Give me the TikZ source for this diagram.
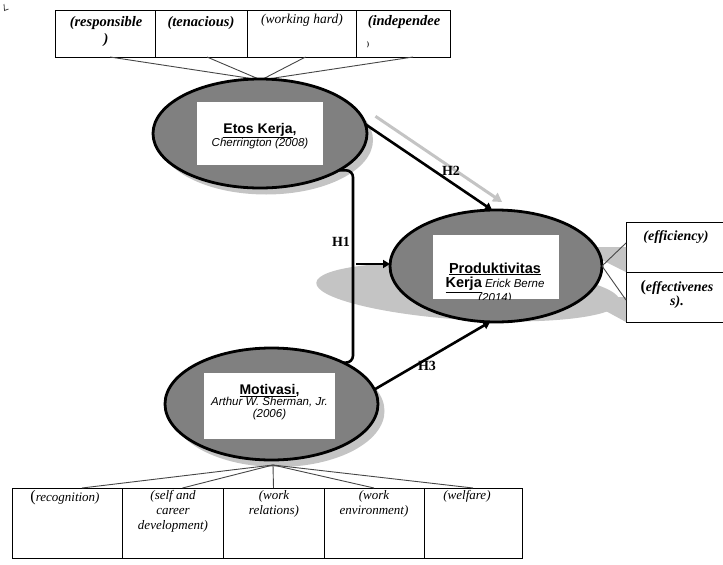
\documentclass[tikz,border=0pt]{standalone}
\usepackage{fontspec}
\setmainfont{Liberation Serif}
\newfontfamily\arial{Liberation Sans}
\usetikzlibrary{shapes.geometric,arrows.meta,calc}
\definecolor{ellgray}{RGB}{128,128,128}
\definecolor{shad}{RGB}{196,196,196}
\definecolor{spokec}{RGB}{70,70,70}
\tikzset{
  constr/.style={ellipse, draw=black, line width=2.8pt, fill=ellgray, inner sep=0pt, outer sep=0pt},
  shadowell/.style={ellipse, fill=shad, draw=none, inner sep=0pt, outer sep=0pt},
  whitebox/.style={fill=white, draw=none, inner sep=0pt},
  cell/.style={draw=black, line width=0.9pt, inner sep=0pt, outer sep=0pt, anchor=north west},
  spoke/.style={draw=spokec, line width=0.9pt},
  hyp/.style={draw=black, line width=2.6pt, -{Triangle[length=7pt,width=8pt]}},
  grayarrow/.style={draw=shad, line width=3pt, -{Triangle[length=9pt,width=10pt]}},
  hlabel/.style={font=\bfseries\fontsize{14}{14}\selectfont, inner sep=0pt},
  topbi/.style={font=\bfseries\itshape\fontsize{14.5}{17}\selectfont, align=center, anchor=north, inner sep=0pt},
  topi/.style={font=\itshape\fontsize{13.5}{17}\selectfont, align=center, anchor=north, inner sep=0pt},
  boti/.style={font=\itshape\fontsize{13}{15}\selectfont, align=center, anchor=north, inner sep=0pt},
  inner/.style={align=center, inner sep=0pt},
}
\newcommand{\bigpar}{{\upshape\fontsize{16}{15}\selectfont(}}
\begin{document}
\begin{tikzpicture}[x=1pt,y=-1pt]
\useasboundingbox (0,0) rectangle (723,565);

% tiny mark top-left
\draw[line width=0.8pt, black!75] (4,4) -- (4.5,10.5) -- (8.5,9);

% ---- top indicator cells ----
\node[cell, minimum width=100, minimum height=47] (t1) at (55,10) {};
\node[cell, minimum width=92, minimum height=47] (t2) at (155,10) {};
\node[cell, minimum width=109, minimum height=47] (t3) at (247,10) {};
\node[cell, minimum width=94, minimum height=47] (t4) at (356,10) {};
\node[topbi] (t1t) at (106,16) {(responsible\\)};
\node[topbi] (t2t) at (201,16) {(tenacious)};
\node[topi] (t3t) at (302,14) {(working hard)};
\node[topbi] (t4t) at (404,15) {(independee};
\node[font=\bfseries\fontsize{7}{7}\selectfont, inner sep=0pt] (t4p) at (368,45) {)};

% ---- bottom indicator cells ----
\node[cell, minimum width=110, minimum height=70] (b1) at (12,488) {};
\node[cell, minimum width=101, minimum height=70] (b2) at (122,488) {};
\node[cell, minimum width=101, minimum height=70] (b3) at (223,488) {};
\node[cell, minimum width=100, minimum height=70] (b4) at (324,488) {};
\node[cell, minimum width=98, minimum height=70] (b5) at (424,488) {};
\node[boti] (b1t) at (65,490) {\bigpar recognition)};
\node[boti] (b2t) at (173,490) {(self and\\career\\development)};
\node[boti] (b3t) at (274,490) {(work\\relations)};
\node[boti] (b4t) at (374,490) {(work\\environment)};
\node[boti] (b5t) at (467,490) {(welfare)};

% ---- right indicator cells ----
\node[cell, minimum width=100, minimum height=50] (r1) at (626,222) {};
\node[cell, minimum width=100, minimum height=50] (r2) at (626,272) {};
\node[font=\bfseries\itshape\fontsize{14}{15}\selectfont, inner sep=0pt] (r1t) at (676,237) {(efficiency)};
\node[font=\bfseries\itshape\fontsize{14}{14}\selectfont, align=center, inner sep=0pt] (r2t) at (677,294) {\bigpar effectivenes\\s).};

% ---- shadows ----
\fill[shad, rotate around={-3.5:(468,292)}] (468,292) ellipse [x radius=152, y radius=28];
\fill[shad] (595,247) -- (626,247) -- (626,272) -- (602,260) -- cycle;
\fill[shad] (580,297) -- (626,297) -- (626,322) -- cycle;
\node[shadowell, minimum width=214, minimum height=109] (etossh) at (266,140) {};
\node[shadowell, minimum width=213, minimum height=112] (motsh) at (278,411) {};

% ---- spokes ----
\coordinate (mb) at (273,465);
\coordinate (et) at (261,80);
\draw[spoke] ([xshift=5pt]t1.south) -- (et);
\draw[spoke] ([xshift=6pt]t2.south) -- (et);
\draw[spoke] ([xshift=4pt]t3.south) -- (et);
\draw[spoke] ([xshift=10pt]t4.south) -- (et);
\draw[spoke] ([xshift=15pt]b1.north) -- (mb);
\draw[spoke] ([xshift=10pt]b2.north) -- (mb);
\draw[spoke] (b3.north) -- (mb);
\draw[spoke] (b4.north) -- (mb);
\draw[spoke] (b5.north) -- (mb);

% ---- construct ellipses ----
\node[constr, minimum width=214, minimum height=109] (etos) at (260,133.5) {};
\node[constr, minimum width=212, minimum height=112] (prod) at (496,266) {};
\node[constr, minimum width=213, minimum height=112] (mot) at (271.5,404) {};

\draw[spoke] (prod.east) -- ([yshift=4pt]r1.west);
\draw[spoke] (prod.east) -- ([yshift=-3pt]r2.west);

% ---- white text boxes ----
\node[whitebox, minimum width=126, minimum height=63] (etosb) at (260,133.5) {};
\node[inner] (etost) at (260,136) {{\arial\bfseries\fontsize{14}{15}\selectfont\underline{Etos Kerja},}\\[-1pt]{\arial\itshape\fontsize{11.5}{13}\selectfont Cherrington (2008)}};

\node[whitebox, minimum width=131, minimum height=66] (motb) at (269.5,406) {};
\node[inner] (mott) at (269.5,402) {{\arial\bfseries\fontsize{14}{15}\selectfont\underline{Motivasi},}\\[-1pt]{\arial\itshape\fontsize{11.5}{14}\selectfont Arthur W. Sherman, Jr.}\\{\arial\itshape\fontsize{11.5}{14}\selectfont (2006)}};

\begin{scope}
\clip (433,235) rectangle (559,299);
\node[whitebox, minimum width=126, minimum height=64] (prodb) at (496,267) {};
\node[inner] (prodt) at (495,283) {{\arial\bfseries\fontsize{14.5}{16}\selectfont\underline{Produktivitas}}\\[1pt]{\arial\bfseries\fontsize{14.5}{16}\selectfont\underline{Kerja}}{\arial\itshape\fontsize{11.5}{16}\selectfont{} Erick Berne}\\[-1pt]{\arial\itshape\fontsize{11.5}{14}\selectfont (2014)}};
\end{scope}

% ---- hypotheses ----
\node[hlabel] (h1) at (341,242) {H1};
\draw[grayarrow] ($(etos.5)+(10,-8)$) -- ($(prod.94)+(10,-8)$);
\draw[hyp] (etos.5) -- (prod.94);
\draw[hyp] (mot.8) -- (prod.-96);
\draw[draw=black, line width=2.6pt, rounded corners=7pt] (etos.-25) -| (353,330) |- (mot.30);
\coordinate (h1s) at (356,264);
\draw[hyp] (h1s) -- (h1s -| prod.west);
\node[hlabel] (h2) at (451,171) {H2};
\node[hlabel] (h3) at (427,366) {H3};
\end{tikzpicture}
\end{document}
